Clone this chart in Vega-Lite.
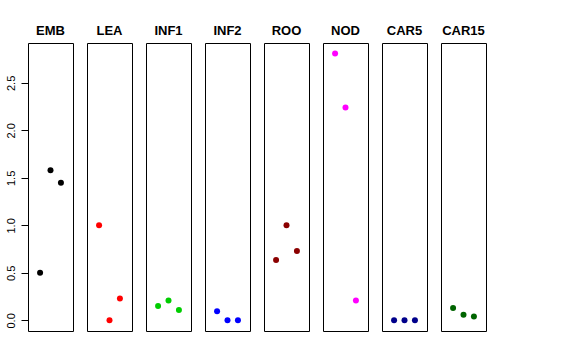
{
  "$schema": "https://vega.github.io/schema/vega-lite/v6.json",
  "padding": {"left": 5, "top": 25, "right": 5, "bottom": 5},
  "background": "white",
  "bounds": "flush",
  "data": {
    "values": [
      {"panel": "EMB", "x": 1, "y": 0.50},
      {"panel": "EMB", "x": 2, "y": 1.58},
      {"panel": "EMB", "x": 3, "y": 1.45},
      {"panel": "LEA", "x": 1, "y": 1.00},
      {"panel": "LEA", "x": 2, "y": 0.00},
      {"panel": "LEA", "x": 3, "y": 0.23},
      {"panel": "INF1", "x": 1, "y": 0.15},
      {"panel": "INF1", "x": 2, "y": 0.21},
      {"panel": "INF1", "x": 3, "y": 0.11},
      {"panel": "INF2", "x": 1, "y": 0.095},
      {"panel": "INF2", "x": 2, "y": 0.0},
      {"panel": "INF2", "x": 3, "y": 0.0},
      {"panel": "ROO", "x": 1, "y": 0.635},
      {"panel": "ROO", "x": 2, "y": 1.0},
      {"panel": "ROO", "x": 3, "y": 0.73},
      {"panel": "NOD", "x": 1, "y": 2.81},
      {"panel": "NOD", "x": 2, "y": 2.24},
      {"panel": "NOD", "x": 3, "y": 0.21},
      {"panel": "CAR5", "x": 1, "y": 0.0},
      {"panel": "CAR5", "x": 2, "y": 0.0},
      {"panel": "CAR5", "x": 3, "y": 0.0},
      {"panel": "CAR15", "x": 1, "y": 0.13},
      {"panel": "CAR15", "x": 2, "y": 0.06},
      {"panel": "CAR15", "x": 3, "y": 0.04}
    ]
  },
  "facet": {
    "column": {
      "field": "panel",
      "type": "nominal",
      "sort": ["EMB", "LEA", "INF1", "INF2", "ROO", "NOD", "CAR5", "CAR15"],
      "title": null,
      "header": {
        "labelFont": "Liberation Sans",
        "labelFontSize": 13,
        "labelFontWeight": "bold",
        "labelColor": "black",
        "labelPadding": -5,
        "labelBaseline": "alphabetic"
      }
    }
  },
  "spacing": 14,
  "spec": {
    "width": 45,
    "height": 288,
    "mark": {"type": "circle", "size": 36, "opacity": 1},
    "encoding": {
      "x": {
        "field": "x",
        "type": "quantitative",
        "scale": {"domain": [-0.16, 4.16], "nice": false, "zero": false},
        "axis": null
      },
      "y": {
        "field": "y",
        "type": "quantitative",
        "scale": {"domain": [-0.112, 2.92], "nice": false, "zero": false},
        "axis": {
          "title": null,
          "values": [0, 0.5, 1, 1.5, 2, 2.5],
          "format": ".1f",
          "grid": false,
          "domain": false,
          "tickColor": "black",
          "tickSize": 7,
          "labelAngle": -90,
          "labelAlign": "center",
          "labelBaseline": "bottom",
          "labelPadding": 5,
          "labelFont": "Liberation Sans",
          "labelFontSize": 11,
          "labelColor": "black"
        }
      },
      "color": {
        "field": "panel",
        "type": "nominal",
        "scale": {
          "domain": ["EMB", "LEA", "INF1", "INF2", "ROO", "NOD", "CAR5", "CAR15"],
          "range": ["#000000", "#FF0000", "#00CD00", "#0000FF", "#8B0000", "#FF00FF", "#00008B", "#006400"]
        },
        "legend": null
      }
    }
  },
  "config": {
    "view": {"stroke": "black", "strokeWidth": 1}
  }
}
